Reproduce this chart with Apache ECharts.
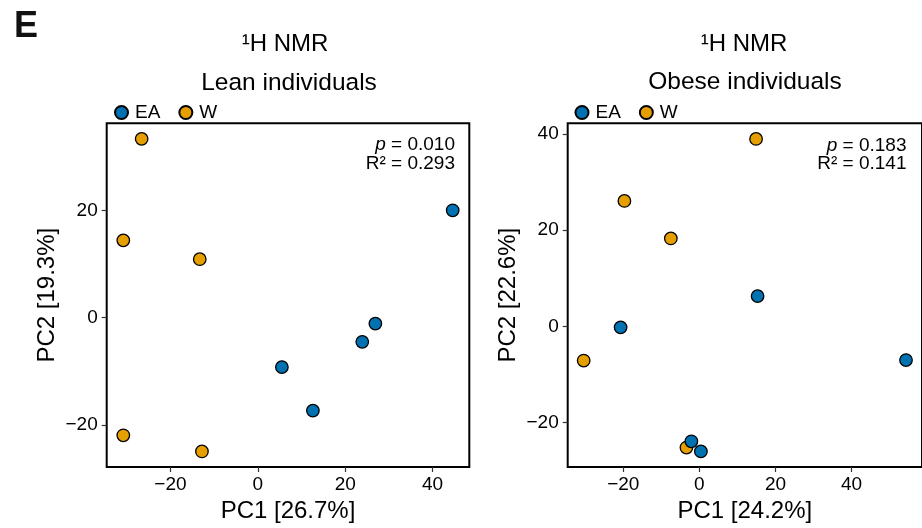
<!DOCTYPE html>
<html>
<head>
<meta charset="utf-8">
<script src="https://cdn.jsdelivr.net/npm/echarts@6/dist/echarts.min.js"></script>
<style>
html,body{margin:0;padding:0;background:#fff;}
#c{width:922px;height:528px;}
</style>
</head>
<body>
<div id="c"></div>
<script>
// ---- data ----
const groups = ['EA', 'W'];
const leanEA = [[44.6, 20.0], [26.9, -1.1], [23.9, -4.5], [5.5, -9.2], [12.6, -17.3]];
const leanW = [[-26.6, 33.3], [-30.8, 14.4], [-13.3, 10.9], [-30.8, -21.9], [-12.8, -24.9]];
const obeseEA = [[15.3, 6.3], [-20.7, -0.2], [54.3, -7.0], [-2.1, -23.9], [0.4, -26.0]];
const obeseW = [[14.9, 39.0], [-19.7, 26.1], [-7.5, 18.3], [-30.4, -7.1], [-3.4, -25.2]];
const tickValues = [-20, 0, 20, 40];
const leanYTicks = [-20, 0, 20];
const obeseYTicks = [-20, 0, 20, 40];
const axisTitles = { leanX: 'PC1 [26.7%]', leanY: 'PC2 [19.3%]', obeseX: 'PC1 [24.2%]', obeseY: 'PC2 [22.6%]' };
const stats = { lean: ['0.010', '0.293'], obese: ['0.183', '0.141'] };
const panelTitles = ['Lean individuals', 'Obese individuals'];

const colors = { EA: '#0072B2', W: '#E69F00' };
const FONT = 'Liberation Sans, Arial, Helvetica, sans-serif';
const fmt = v => v < 0 ? '\u2212' + Math.abs(v) : String(v);

function xAxis(idx, min, max, name) {
  return {
    type: 'value', gridIndex: idx, min: min, max: max, position: 'bottom',
    name: name, nameLocation: 'middle', nameGap: 32,
    nameTextStyle: { fontSize: 24, color: '#000', fontFamily: FONT },
    axisLine: { show: false, onZero: false },
    splitLine: { show: false },
    axisTick: { show: true, length: 5, customValues: tickValues, lineStyle: { color: '#333', width: 1.2 } },
    axisLabel: { customValues: tickValues, formatter: fmt, fontSize: 19, color: '#000', fontFamily: FONT, margin: 8 }
  };
}
function yAxis(idx, min, max, name, ticks) {
  return {
    type: 'value', gridIndex: idx, min: min, max: max, position: 'left',
    name: name, nameLocation: 'middle', nameGap: 47,
    nameTextStyle: { fontSize: 24, color: '#000', fontFamily: FONT },
    axisLine: { show: false, onZero: false },
    splitLine: { show: false },
    axisTick: { show: true, length: 5, customValues: ticks, lineStyle: { color: '#333', width: 1.2 } },
    axisLabel: { customValues: ticks, formatter: fmt, fontSize: 19, color: '#000', fontFamily: FONT, margin: 9 }
  };
}
function series(name, idx, data) {
  return {
    type: 'scatter', name: name, xAxisIndex: idx, yAxisIndex: idx, data: data,
    symbol: 'circle', symbolSize: 12.5,
    itemStyle: { color: colors[name], borderColor: '#000', borderWidth: 1.3, opacity: 1 },
    emphasis: { disabled: true }
  };
}
function legend(left) {
  return {
    data: groups, left: left, top: 103, padding: 0, icon: 'circle',
    itemWidth: 13, itemHeight: 13, itemGap: 18,
    textStyle: { fontSize: 19, color: '#000', fontFamily: FONT, padding: [0, 0, 0, 2] },
    selectedMode: false
  };
}
function txt(x, y, text, size, align, extra) {
  return {
    type: 'text', x: x, y: y, silent: true,
    style: Object.assign({ text: text, fontSize: size, fontFamily: FONT, fill: '#000', align: align, verticalAlign: 'middle' }, extra || {})
  };
}
const richP = { i: { fontStyle: 'italic', fontSize: 19, fontFamily: FONT } };

const chart = echarts.init(document.getElementById('c'), null, { renderer: 'canvas' });
chart.setOption({
  animation: false,
  backgroundColor: '#fff',
  grid: [
    { left: 106.7, top: 123.3, width: 362.6, height: 347.7, show: true, borderColor: '#000', borderWidth: 2, backgroundColor: 'transparent' },
    { left: 567.7, top: 123.3, width: 362.6, height: 347.7, show: true, borderColor: '#000', borderWidth: 2, backgroundColor: 'transparent' }
  ],
  xAxis: [xAxis(0, -34.6, 48.4, axisTitles.leanX), xAxis(1, -34.6, 58.5, axisTitles.obeseX)],
  yAxis: [yAxis(0, -27.8, 36.2, axisTitles.leanY, leanYTicks), yAxis(1, -29.25, 42.25, axisTitles.obeseY, obeseYTicks)],
  legend: [legend(114), legend(574.5)],
  series: [
    series('W', 0, leanW), series('EA', 0, leanEA),
    series('W', 1, obeseW), series('EA', 1, obeseEA)
  ],
  graphic: [
    txt(14, 27, 'E', 36, 'left', { fontWeight: 'bold', fill: '#111' }),
    txt(285, 44, '\u00b9H NMR', 24, 'center'),
    txt(744, 44, '\u00b9H NMR', 24, 'center'),
    txt(289, 83, panelTitles[0], 24.5, 'center'),
    txt(745, 82, panelTitles[1], 24.5, 'center'),
    txt(455, 145, '{i|p} = ' + stats.lean[0], 19, 'right', { rich: richP }),
    txt(455, 164, 'R\u00b2 = ' + stats.lean[1], 19, 'right'),
    txt(906.5, 146, '{i|p} = ' + stats.obese[0], 19, 'right', { rich: richP }),
    txt(906.5, 164, 'R\u00b2 = ' + stats.obese[1], 19, 'right')
  ]
});
</script>
</body>
</html>
